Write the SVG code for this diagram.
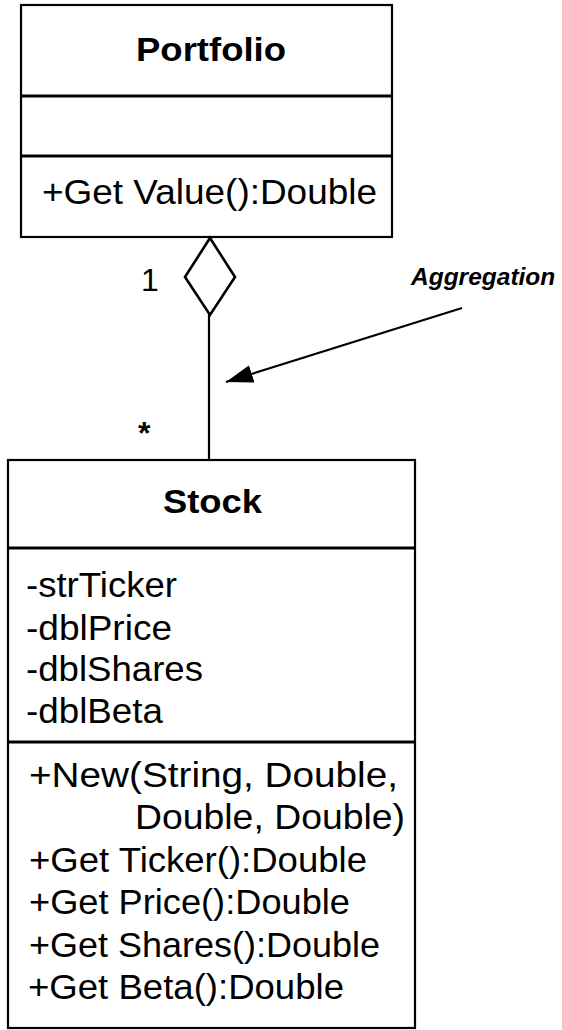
<svg xmlns="http://www.w3.org/2000/svg" width="562" height="1030" viewBox="0 0 562 1030">
<style>
  .box { fill: #ffffff; stroke: #000000; stroke-width: 2.2; }
  .div { stroke: #000000; stroke-width: 3.2; fill: none; }
  .title { font-family: "Liberation Sans", Arial, sans-serif; font-weight: bold; font-size: 34px; fill: #000; text-anchor: middle; }
  .mem { font-family: "Liberation Sans", Arial, sans-serif; font-size: 35px; fill: #000; }
  .lbl { font-family: "Liberation Sans", Arial, sans-serif; font-size: 32px; fill: #000; }
  .note { font-family: "Liberation Sans", Arial, sans-serif; font-size: 24.5px; font-weight: bold; font-style: italic; fill: #000; }
  .conn { stroke: #000000; stroke-width: 2.2; fill: none; }
</style>
<defs>
  <marker id="arrow" markerUnits="userSpaceOnUse" markerWidth="30" markerHeight="20" refX="27" refY="9" orient="auto">
    <path d="M0,0 L27,9 L0,18 Z" fill="#000"/>
  </marker>
</defs>
<rect width="562" height="1030" fill="#ffffff"/>

<g id="portfolio">
  <rect class="box" x="21" y="5" width="371" height="232"/>
  <line class="div" x1="21" y1="96" x2="392" y2="96"/>
  <line class="div" x1="21" y1="156" x2="392" y2="156"/>
  <text class="title" x="211" y="61" textLength="150" lengthAdjust="spacingAndGlyphs">Portfolio</text>
  <text class="mem" x="42" y="204" textLength="335" lengthAdjust="spacingAndGlyphs">+Get Value():Double</text>
</g>

<g id="stock">
  <rect class="box" x="8" y="460" width="407" height="568"/>
  <line class="div" x1="8" y1="548" x2="415" y2="548"/>
  <line class="div" x1="8" y1="742" x2="415" y2="742"/>
  <text class="title" x="212.5" y="513" textLength="99" lengthAdjust="spacingAndGlyphs">Stock</text>
  <text class="mem" x="26" y="597" textLength="151" lengthAdjust="spacingAndGlyphs">-strTicker</text>
  <text class="mem" x="26" y="640" textLength="146" lengthAdjust="spacingAndGlyphs">-dblPrice</text>
  <text class="mem" x="26" y="681" textLength="177" lengthAdjust="spacingAndGlyphs">-dblShares</text>
  <text class="mem" x="26" y="723" textLength="137" lengthAdjust="spacingAndGlyphs">-dblBeta</text>
  <text class="mem" x="29" y="787" textLength="369" lengthAdjust="spacingAndGlyphs">+New(String, Double,</text>
  <text class="mem" x="135" y="829" textLength="270" lengthAdjust="spacingAndGlyphs">Double, Double)</text>
  <text class="mem" x="29" y="872" textLength="338" lengthAdjust="spacingAndGlyphs">+Get Ticker():Double</text>
  <text class="mem" x="29" y="914" textLength="321" lengthAdjust="spacingAndGlyphs">+Get Price():Double</text>
  <text class="mem" x="29" y="957" textLength="351" lengthAdjust="spacingAndGlyphs">+Get Shares():Double</text>
  <text class="mem" x="28" y="999" textLength="316" lengthAdjust="spacingAndGlyphs">+Get Beta():Double</text>
</g>

<g id="connectors">
  <line class="conn" x1="209" y1="314" x2="209" y2="460"/>
  <polygon points="210,238 235,277 210,315 185,277" fill="#ffffff" stroke="#000" stroke-width="2.6" stroke-linejoin="miter"/>
  <line class="conn" x1="462" y1="308" x2="226" y2="382" stroke-width="2.8" marker-end="url(#arrow)"/>
</g>

<g id="labels">
  <text class="lbl" x="141" y="291">1</text>
  <text class="lbl" x="138" y="444" font-weight="bold" font-size="32px">*</text>
  <text class="note" x="411" y="285">Aggregation</text>
</g>
</svg>
